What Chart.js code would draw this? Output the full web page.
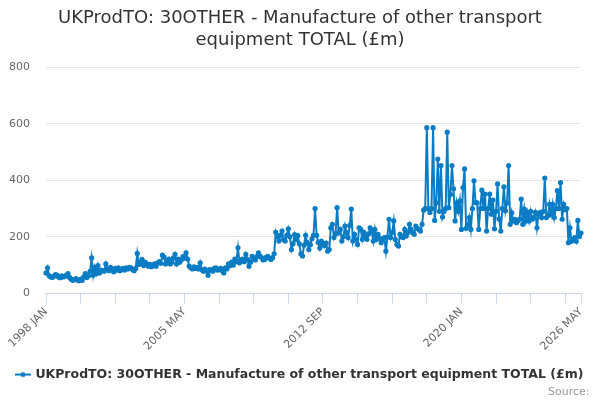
<!DOCTYPE html>
<html>
<head>
<meta charset="utf-8">
<script src="https://cdn.jsdelivr.net/npm/chart.js@4.4.1/dist/chart.umd.min.js"></script>
<style>
  body { margin: 0; background: #fff; }
  #chart { display: block; }
</style>
</head>
<body>
<canvas id="chart" width="600" height="400"></canvas>
<script>
const seriesName = "UKProdTO: 30OTHER - Manufacture of other transport equipment TOTAL (£m)";
const startYear = 1998;
const monthNames = ["JAN", "FEB", "MAR", "APR", "MAY", "JUN", "JUL", "AUG", "SEP", "OCT", "NOV", "DEC"];

// monthly values, Jan 1998 .. May 2026 (£m)
const values = [
  72, 90, 62, 58, 56, 60, 66, 64, 58, 55, 62, 58,           // 1998
  60, 64, 70, 56, 50, 46, 48, 52, 47, 44, 50, 46,           // 1999
  58, 70, 56, 62, 78, 125, 64, 92, 70, 98, 72, 82,          // 2000
  80, 78, 104, 86, 80, 92, 84, 76, 88, 82, 90, 80,          // 2001
  84, 88, 82, 90, 86, 92, 90, 84, 80, 88, 141, 102,         // 2002
  108, 120, 98, 110, 104, 96, 102, 94, 100, 104, 96, 108,   // 2003
  112, 106, 135, 128, 104, 112, 121, 104, 110, 125, 138, 104, // 2004
  121, 110, 118, 130, 124, 143, 121, 96, 90, 86, 94, 88,    // 2005
  92, 86, 108, 84, 78, 86, 80, 64, 84, 82, 78, 88,          // 2006
  90, 82, 84, 88, 80, 72, 90, 86, 104, 98, 110, 100,        // 2007
  121, 112, 161, 108, 118, 121, 112, 138, 120, 96, 110, 131, // 2008
  124, 118, 130, 143, 132, 126, 118, 120, 128, 131, 124, 120, // 2009
  126, 140, 216, 200, 185, 205, 220, 190, 185, 205, 228, 200, // 2010
  155, 175, 208, 190, 204, 175, 140, 132, 170, 205, 180, 155, // 2011
  172, 193, 205, 300, 205, 180, 160, 185, 176, 168, 178, 149, // 2012
  155, 232, 244, 197, 210, 303, 214, 226, 185, 200, 238, 215, // 2013
  197, 240, 298, 185, 209, 190, 173, 232, 226, 191, 216, 200, // 2014
  191, 210, 232, 220, 185, 226, 191, 209, 195, 179, 190, 197, // 2015
  149, 200, 262, 197, 215, 256, 190, 173, 167, 209, 200, 197, // 2016
  226, 203, 215, 244, 226, 215, 209, 238, 230, 226, 220, 244, // 2017
  294, 300, 586, 300, 286, 300, 586, 258, 320, 475, 290, 452, // 2018
  270, 290, 300, 570, 303, 350, 452, 370, 256, 320, 290, 327, // 2019
  226, 374, 440, 230, 240, 268, 226, 300, 398, 321, 320, 226, // 2020
  300, 365, 300, 351, 220, 300, 351, 280, 330, 228, 290, 387, // 2021
  263, 220, 300, 377, 292, 320, 452, 244, 285, 255, 262, 250, // 2022
  258, 262, 333, 244, 298, 256, 286, 256, 290, 262, 268, 286, // 2023
  232, 280, 286, 268, 290, 408, 268, 275, 315, 280, 315, 268, // 2024
  300, 363, 300, 392, 262, 315, 296, 300, 179, 232, 184, 190, // 2025
  197, 184, 258, 201, 213                                     // 2026
];

const categories = [];
for (let i = 0; i < values.length; i++) {
  categories.push((startYear + Math.floor(i / 12)) + " " + monthNames[i % 12]);
}

const tickLabels = ["1998 JAN", "2005 MAY", "2012 SEP", "2020 JAN", "2026 MAY"];
const tickStep = 22; // small tick marks every 22 months
const yTicks = [0, 200, 400, 600, 800];

const lineColor = "#0a7cc4";

// legend symbol: short line with a dot
const legendSymbol = document.createElement("canvas");
legendSymbol.width = 16;
legendSymbol.height = 8;
const sctx = legendSymbol.getContext("2d");
sctx.strokeStyle = lineColor;
sctx.lineWidth = 2;
sctx.beginPath();
sctx.moveTo(0, 4);
sctx.lineTo(16, 4);
sctx.stroke();
sctx.fillStyle = lineColor;
sctx.beginPath();
sctx.arc(8, 4, 2.5, 0, Math.PI * 2);
sctx.fill();

Chart.defaults.font.family = "'DejaVu Sans', sans-serif";

new Chart(document.getElementById("chart"), {
  type: "line",
  data: {
    labels: categories,
    datasets: [{
      label: seriesName,
      data: values,
      borderColor: lineColor,
      backgroundColor: lineColor,
      borderWidth: 2,
      pointRadius: 1.6,
      pointHoverRadius: 3,
      tension: 0,
    }],
  },
  options: {
    responsive: false,
    animation: false,
    devicePixelRatio: 1,
    layout: { padding: { left: 0, right: 0, top: 6, bottom: 1 }, autoPadding: false },
    plugins: {
      title: {
        display: true,
        text: ["UKProdTO: 30OTHER - Manufacture of other transport", "equipment TOTAL (£m)"],
        color: "#333333",
        font: { size: 18, weight: "normal" },
        lineHeight: 1.25,
        padding: { top: 2, bottom: 16 },
      },
      subtitle: {
        display: true,
        position: "bottom",
        align: "end",
        text: "Source:\u00a0\u00a0\u00a0",
        color: "#999999",
        font: { size: 11 },
        padding: { top: -5, bottom: 0 },
      },
      legend: {
        position: "bottom",
        labels: {
          usePointStyle: true,
          pointStyle: legendSymbol,
          color: "#333333",
          font: { size: 12.5, weight: "bold" },
          padding: 8,
        },
      },
      tooltip: { enabled: false },
    },
    scales: {
      x: {
        offset: false,
        afterBuildTicks: (scale) => {
          const last = values.length - 1;
          scale.ticks = scale.ticks.filter(t => t.value % tickStep === 0 || t.value === last);
        },
        afterFit: (scale) => {
          scale.paddingLeft = 46;
          scale.paddingRight = 19;
          scale.getPadding = () => ({ left: 46, right: 19, top: 0, bottom: 0 });
          scale.height = 67;
        },
        ticks: {
          autoSkip: false,
          maxRotation: 45,
          minRotation: 45,
          color: "#666666",
          font: { size: 11 },
          padding: 2,
          callback: function (value) {
            const lab = this.getLabelForValue(value);
            return tickLabels.includes(lab) ? lab : "";
          },
        },
        grid: {
          drawOnChartArea: false,
          drawTicks: true,
          tickLength: 10,
          color: "#ccd6eb",
        },
        border: { color: "#ccd6eb", width: 1 },
      },
      y: {
        min: yTicks[0],
        max: yTicks[yTicks.length - 1],
        afterBuildTicks: (scale) => {
          scale.ticks = yTicks.map(v => ({ value: v }));
        },
        afterFit: (scale) => {
          scale.width = 46;
        },
        ticks: {
          color: "#666666",
          font: { size: 11 },
          padding: 16,
        },
        grid: {
          color: "#e6e6e6",
          drawTicks: false,
        },
        border: { display: false },
      },
    },
  },
});
</script>
</body>
</html>
